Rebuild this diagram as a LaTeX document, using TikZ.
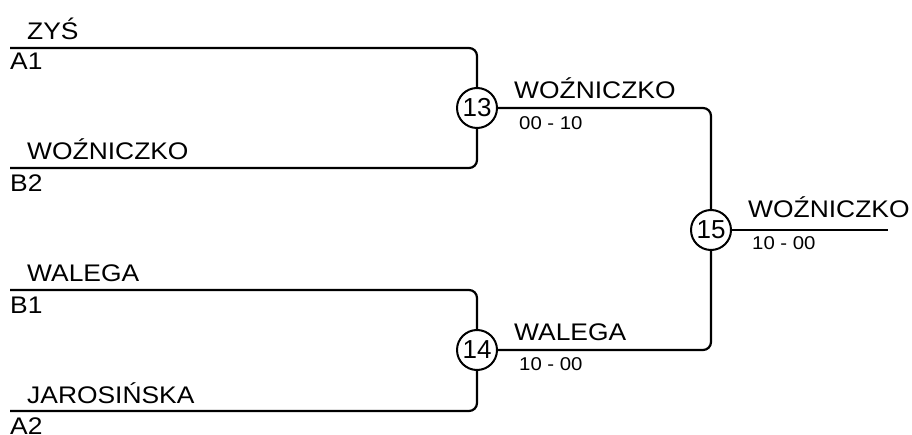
\documentclass[tikz,border=0pt]{standalone}
\usepackage{fontspec}
\setmainfont{Liberation Sans}
\newfontfamily\widefont[FakeStretch=1.1]{Liberation Sans}
\begin{document}
\begin{tikzpicture}[x=1pt,y=-1pt,
  conn/.style={line width=2.2pt, rounded corners=8pt},
  match/.style={circle, draw, line width=2pt, minimum size=40pt, inner sep=0pt, font=\fontsize{26}{28}\selectfont},
  lbl/.style={anchor=base west, inner sep=0pt, font=\widefont\fontsize{24}{28}\selectfont},
  score/.style={anchor=base west, inner sep=0pt, font=\widefont\fontsize{18.5}{22}\selectfont}]
\useasboundingbox (0,0) rectangle (912,435);
% match circles
\node[match] (m13) at (477,108) {13};
\node[match] (m14) at (477,350) {14};
\node[match] (m15) at (711,230) {15};
% start coordinates
\coordinate (a1) at (10,48);
\coordinate (b2) at (10,168);
\coordinate (b1) at (10,290);
\coordinate (a2) at (10,411);
\coordinate (c13) at (711,108);
\coordinate (c14) at (711,350);
\coordinate (fin) at (888,230);
% connectors
\draw[conn] (a1) -| (m13.north);
\draw[conn] (b2) -| (m13.south);
\draw[conn] (b1) -| (m14.north);
\draw[conn] (a2) -| (m14.south);
\draw[conn] (m13.east) -- (c13) -- (m15.north);
\draw[conn] (m14.east) -- (c14) -- (m15.south);
\draw[conn] (m15.east) -- (fin);
% labels
\node[lbl] (n1) at (27,40) {ZYŚ};
\node[lbl] (s1) at (10,70) {A1};
\node[lbl] (n2) at (27,160) {WOŹNICZKO};
\node[lbl] (s2) at (10,192) {B2};
\node[lbl] (n3) at (27,282) {WALEGA};
\node[lbl] (s3) at (10,313) {B1};
\node[lbl] (n4) at (27,403) {JAROSIŃSKA};
\node[lbl] (s4) at (10,434) {A2};
\node[lbl] (w13) at (514,99) {WOŹNICZKO};
\node[score] (r13) at (519,130) {00 - 10};
\node[lbl] (w14) at (514,340) {WALEGA};
\node[score] (r14) at (519,370) {10 - 00};
\node[lbl] (w15) at (748,218) {WOŹNICZKO};
\node[score] (r15) at (752,250) {10 - 00};
\end{tikzpicture}
\end{document}
